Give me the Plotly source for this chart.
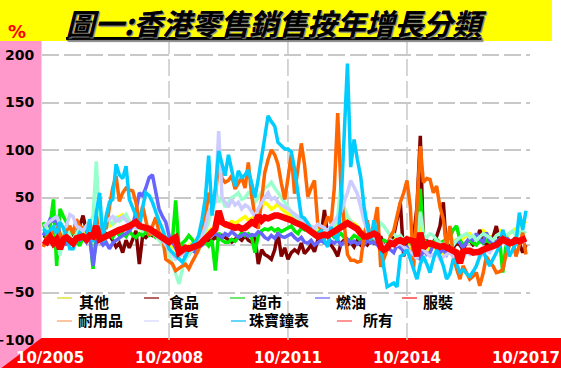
import plotly.graph_objects as go
import pandas as pd

# ---------------- data (monthly, from Aug 2005) ----------------
START = "2005-08-01"

names = ["其他", "食品", "超市", "燃油", "服裝", "耐用品", "百貨", "珠寶鐘表", "所有"]

others = [10, 12, 15, 10, 12,
          8, 12, 10, 15, 12, 10, 14, 12, 15, 10, 12, 15,
          18, 20, 22, 20, 22, 25, 30, 32, 28, 25, 22, 20,
          18, 15, 12, 15, 10, 12, 8, 5, 3, 0, -2, -5,
          -8, -5, -3, 0, 2, 5, 8, 10, 12, 15, 18, 20,
          22, 25, 20, 22, 25, 23, 25, 28, 30, 26, 28, 30,
          35, 40, 45, 42, 38, 40, 44, 38, 35, 32, 30, 28,
          25, 22, 20, 18, 15, 12, 15, 18, 15, 12, 15, 20,
          22, 25, 28, 30, 25, 22, 20, 15, 12, 10, 8, 10,
          12, 5, 2, 0, 3, 5, 8, 5, 2, 0, -5, -8,
          -10, 20, -5, -8, -3, 0, -5, -8, -10, -5, 0, 5,
          2, 5, 8, 10, 12, 8, 5, 10, 15, 12, 8, 10,
          12, 15, 10, 8, 12, 15, 18, 20, 22, 25]

food = [10, 8, 12, 6, 9,
        5, 8, 10, 6, 9, 12, 20, 31, 15, 8, 10, 6,
        9, 8, 12, 10, 5, -2, 2, -8, 5, -3, 6, 15,
        -20, 10, 8, 12, 10, 14, 8, 5, 3, 2, 5, 2,
        0, -3, -5, -2, -4, 0, 2, 5, 3, 5, 5, 8,
        6, 10, 8, 5, 3, 6, 8, 5, 10, 5, 3, 8,
        -20, -5, -10, -12, -15, -5, 13, -12, -3, -15, -8, -5,
        -8, 2, -9, -5, 0, -7, 5, 10, 37, 9, 0, -5,
        -12, 2, 5, 0, 3, -2, 5, 0, 3, 0, 5, 2,
        3, 9, 0, -5, 5, 10, 25, 44, -12, 5, 3, 8,
        40, 115, 2, 5, 0, 3, 9, 20, 45, -8, 0, -3,
        2, 0, -5, 3, 5, 0, 2, 16, 5, 0, 3, 8,
        20, 2, 5, 8, 3, 5, 8, 2, -8, 0]

supermarket = [24, 6, 20, 48, -22,
               38, 30, 24, 10, 15, 5, -1, 8, 10, 12, -25, 13,
               5, 8, 10, 12, 8, 14, 10, 12, 9, 15, 10, 8,
               12, 10, 15, 10, 12, 8, 10, 6, 8, 6, 5, 47,
               -4, 2, 5, 10, 6, 0, 2, 0, 3, -1, 5, -27,
               13, 5, 3, 3, 6, 4, 8, 13, 10, 12, 8, -8,
               10, 15, 17, 16, 18, 15, 17, 14, 16, 18, 20, 15,
               12, 18, 16, 20, 14, 10, 12, 15, 8, 10, 12, 8,
               10, 12, 8, 5, 6, 10, 8, 5, 7, 9, 6, 8,
               4, 2, 5, 3, 6, 2, 5, 8, 3, 5, 2, 0,
               5, 59, 5, 2, 0, 3, 6, 2, 4, 0, 8, 16,
               20, 5, 0, 3, 5, 2, 0, 4, 2, 5, 3, 0,
               2, 5, -29, 0, 3, 5, 2, 4, 6, 5]

fuel = [10, 20, 27, 25, 28,
        10, 5, 0, 8, 2, 10, 5, 8, 3, 10, -22, 3,
        5, 0, 3, -4, 2, 5, 8, 10, 12, 15, 20, 35,
        55, 52, 60, 71, 74, 55, 38, 30, 24, 10, 3, -5,
        -10, -8, -12, -10, -5, -8, -3, 0, 5, 8, 10, 12,
        10, 8, 12, 10, 14, 11, 8, 10, 12, 9, 11, 10,
        14, 12, 8, 6, 10, 7, 12, 9, 8, 10, 12, 8,
        5, 8, 3, 2, 5, 0, 3, 5, 2, 0, 4, 2,
        5, 0, 3, 6, 2, 4, 1, 3, 0, 5, 2, 3,
        0, -3, -8, -2, -5, -8, 0, -3, -6, -2, -10, -5,
        -12, -15, -5, -10, -8, 0, -3, -8, -5, -10, -3, 0,
        5, 2, -3, 3, 8, 5, 12, 6, 3, 13, 5, 2,
        4, 6, 3, 8, 5, 2, 6, 4, 3, 5]

clothing = [15, 18, 10, 20, 12,
            -11, 15, 20, 10, 5, 12, 18, 15, 20, 25, 30, 88,
            20, 15, 18, 25, 22, 30, 25, 28, 32, 25, 20, 22,
            18, 15, 20, 12, 15, 10, 5, 0, -5, -10, -20, -30,
            -41, -25, -15, -10, -5, 0, 5, 10, 15, 25, 40, 59,
            45, 50, 40, 45, 50, 52, 55, 48, 50, 55, 52, 45,
            50, 55, 60, 62, 66, 60, 55, 50, 45, 40, 35, 30,
            28, 25, 22, 20, 18, 15, 20, 18, 15, 12, 15, 20,
            30, 65, 40, 30, 25, 20, 15, 12, 10, 15, 12, 10,
            15, 23, 20, 15, 10, 12, 8, 10, 5, 8, 3, 5,
            10, 35, 10, 8, 12, 10, 5, 2, 0, 5, 3, 0,
            5, 8, 10, 12, 8, 10, 5, 8, 12, 10, 8, 5,
            10, 12, 8, 10, 12, 15, 10, 12, 15, 12]

durables = [-2, 8, 10, 13, 17,
            12, 6, 15, 20, 12, 27, 20, 17, 15, 22, 12, 31,
            10, 20, 17, 40, 60, 73, 46, 55, 60, 58, 57, 45,
            24, 41, 25, 10, 20, 29, 13, 10, -15, -18, -20, -27,
            -24, -22, -20, -25, -18, -11, -5, 17, 30, 55, 41, 50,
            88, 70, 66, 68, 73, 59, 65, 71, 60, 87, 52, 30,
            17, 50, 76, 90, 100, 95, 85, 65, 48, 70, 96, 54,
            80, 107, 85, 51, 60, 68, 23, 16, 20, 30, 23, 60,
            139, 58, 23, -10, -16, -16, -18, -17, 10, 26, 5, 20,
            40, -23, -15, -5, 9, 15, 30, 45, 55, 68, 40, -25,
            40, 104, 66, 70, 69, 55, 62, 40, 27, -1, 20, -12,
            -25, -36, -22, -30, -36, -33, -29, -43, -30, -12, -18, -22,
            -29, -28, -26, -10, -1, 5, -12, 0, 13, -10]

dept_stores = [20, 22, 25, 28, 30,
               22, 18, 20, 32, 30, 20, 18, 15, 20, 18, 12, 15,
               20, 22, 25, 28, 30, 25, 28, 30, 26, 22, 20, 18,
               22, 20, 18, 15, 12, 10, 8, 5, 0, -5, -10, -15,
               -12, -10, -8, -5, -3, 0, 5, 10, 20, 35, 40, 45,
               120, 50, 45, 40, 48, 42, 45, 38, 42, 40, 35, 30,
               38, 45, 50, 55, 48, 50, 45, 42, 40, 38, 35, 32,
               30, 28, 25, 22, 20, 18, 22, 20, 18, 15, 20, 25,
               30, 35, 45, 55, 68, 60, 54, 40, 25, 15, 10, 8,
               5, 2, 0, -3, 5, 3, 0, 2, -2, -5, -8, -10,
               -15, 10, -5, -8, -12, -10, -8, -15, -12, -10, -8, -12,
               -10, -15, -12, -8, -10, -5, -8, -12, -10, -5, -8, -3,
               0, 2, 5, 0, 3, 5, 2, 4, 6, 3]

jewellery = [17, 13, 15, 19, 12,
             24, 18, 10, -4, -4, 5, 13, 10, 8, 27, 3, 34,
             55, 3, 30, 45, 48, 85, 74, 70, 83, 48, 40, 31,
             17, 40, 55, 52, 45, 34, 25, 17, 6, -4, -8, -11,
             -15, -18, -12, -4, 0, 3, 10, 27, 50, 94, 31, 60,
             99, 85, 73, 95, 80, 62, 78, 71, 74, 79, 65, 50,
             70, 94, 118, 136, 130, 125, 108, 104, 101, 101, 98, 80,
             55, 30, 28, 23, 16, 12, 9, 16, 5, -2, 19, 10,
             5, 44, 110, 191, 82, 111, 90, 72, 40, 20, 5, 26,
             10, -2, -23, -44, -42, -40, -44, -12, -10, -5, -15, -25,
             -36, -20, -12, -20, -29, -15, -5, -12, -22, -36, -30, -15,
             -20, -29, -26, -30, -33, -28, -22, -12, -5, -15, -22, -15,
             -8, -1, 16, 5, -12, -5, 2, 34, 16, 36]

total = [5, 3, 8, 2, 6,
         -4, 6, 8, 5, 2, 7, 8, 9, 6, 10, 9, 20,
         6, 8, 9, 12, 13, 14, 16, 17, 18, 20, 22, 24,
         20, 18, 18, 17, 15, 13, 10, 8, 5, 3, 6, 8,
         -8, -5, -3, -4, -3, -2, 0, 3, 6, 10, 14, 17,
         36, 24, 22, 20, 19, 18, 19, 17, 18, 20, 24, 22,
         31, 26, 29, 28, 30, 31, 31, 30, 29, 28, 26, 24,
         23, 21, 19, 16, 14, 12, 9, 10, 11, 10, 12, 14,
         16, 19, 21, 23, 21, 19, 17, 12, 9, 9, 10, 12,
         10, -2, -5, -3, 2, 1, 4, 5, 3, 6, 5, 4,
         -12, 13, -3, 1, 2, 0, -1, -2, -1, -3, -5, -6,
         -8, -19, -7, -6, -6, -8, -8, -7, -5, -4, -2, -1,
         0, 3, 6, 4, 2, 3, 5, 4, 6, 7]

series = [others, food, supermarket, fuel, clothing, durables, dept_stores, jewellery, total]

y_ticks = [-100, -50, 0, 50, 100, 150, 200]
x_tick_dates = ["2005-10-01", "2008-10-01", "2011-10-01", "2014-10-01", "2017-10-01"]
x_tick_labels = ["10/2005", "10/2008", "10/2011", "10/2014", "10/2017"]
grid_dates = ["2008-10-01", "2011-10-01", "2014-10-01"]

# ---------------- styling ----------------
line_colors = ["#FFFF00", "#800000", "#00EE00", "#6666FF", "#99FFCC",
               "#FF6600", "#CCCCFF", "#00CCFF", "#FF0000"]
line_widths = [3.5, 3.5, 3.5, 3.5, 3.5, 3.5, 3.5, 3.5, 6.5]
legend_colors = ["#E0E040", "#A03030", "#40E040", "#8080FF", "#FF4040",
                 "#FFB080", "#DCDCFF", "#30C8FF", "#FF7070"]

W, H = 561, 368
L, R, T, B = 42, 31, 42, 28
PW, PH = W - L - R, H - T - B


def px(x):
    return (x - L) / PW


def py(y):
    return (H - B - y) / PH


fig = go.Figure()
for name, vals, col, wd in zip(names, series, line_colors, line_widths):
    xs = pd.date_range(START, periods=len(vals), freq="MS")
    fig.add_trace(go.Scatter(x=xs, y=vals, mode="lines", name=name,
                             line=dict(color=col, width=wd),
                             showlegend=False))

shapes = []
# red bottom band
shapes.append(dict(type="rect", xref="paper", yref="paper", layer="below",
                   x0=px(0), x1=px(W), y0=py(H), y1=py(338),
                   fillcolor="#FF0000", line=dict(width=0)))
# pink left strip with diagonal corner
shapes.append(dict(type="path", xref="paper", yref="paper", layer="below",
                   path=f"M{px(0)},{py(41)} L{px(41.5)},{py(41)} L{px(41.5)},{py(338)} L{px(0)},{py(369)} Z",
                   fillcolor="#FF99CC", line=dict(width=0)))
# yellow title band
shapes.append(dict(type="rect", xref="paper", yref="paper", layer="below",
                   x0=px(0), x1=px(552), y0=py(41), y1=py(0),
                   fillcolor="#FFFF00", line=dict(width=0)))
# vertical dashed grid lines
for d in grid_dates:
    shapes.append(dict(type="line", xref="x", yref="paper", layer="below",
                       x0=d, x1=d, y0=0, y1=1,
                       line=dict(color="#C8C8C8", width=1.5, dash="17px,5px")))

annotations = []
# title
annotations.append(dict(xref="paper", yref="paper", x=px(276), y=py(22),
                        text="圖一:香港零售銷售按年增長分類", showarrow=False,
                        xanchor="center", yanchor="middle",
                        font=dict(family="Noto Sans CJK TC", size=29, color="black",
                                  weight="bold", style="italic", lineposition="under",
                                  shadow="1px 1px 1px #888888")))
annotations.append(dict(xref="paper", yref="paper", x=px(17), y=py(31),
                        text="%", showarrow=False, xanchor="center", yanchor="middle",
                        font=dict(family="DejaVu Sans", size=18, color="#FF0000", weight="bold")))

# custom legend (two rows)
leg_line_x = [57, 144, 230, 315, 402, 57, 144, 231, 337]
leg_text_x = [78, 168, 251, 335, 422, 77, 168, 248, 362]
leg_line_y = [298, 298, 298, 298, 298, 321, 321, 321, 321]
leg_text_y = [301, 301, 301, 301, 301, 319, 319, 319, 319]
for nm, c, lx, tx, ly, ty in zip(names, legend_colors, leg_line_x, leg_text_x, leg_line_y, leg_text_y):
    shapes.append(dict(type="line", xref="paper", yref="paper", layer="above",
                       x0=px(lx), x1=px(lx + 15), y0=py(ly), y1=py(ly),
                       line=dict(color=c, width=1.5)))
    annotations.append(dict(xref="paper", yref="paper", x=px(tx), y=py(ty),
                            text=nm, showarrow=False, xanchor="left", yanchor="middle",
                            height=17, borderpad=0,
                            font=dict(family="Noto Sans CJK TC", size=15, color="black",
                                      weight="bold")))

fig.update_layout(
    width=W, height=H,
    margin=dict(l=L, r=R, t=T, b=B, pad=0, autoexpand=False),
    paper_bgcolor="white", plot_bgcolor="white",
    showlegend=False,
    shapes=shapes, annotations=annotations,
    xaxis=dict(type="date", range=["2005-07-19", "2017-11-07"], automargin=False,
               tickmode="array", tickvals=x_tick_dates, ticktext=x_tick_labels,
               showgrid=False, zeroline=False, showline=False,
               ticks="outside", ticklen=4, tickcolor="rgba(0,0,0,0)",
               tickfont=dict(family="DejaVu Sans", size=15, color="white", weight="bold")),
    yaxis=dict(range=[-100, 213.7], tickmode="array", tickvals=y_ticks, automargin=False,
               showgrid=True, gridcolor="#C8C8C8", gridwidth=1.5, griddash="17px,5px",
               zeroline=False, showline=False,
               ticks="outside", ticklen=4, tickcolor="rgba(0,0,0,0)",
               tickfont=dict(family="DejaVu Sans", size=14, color="black", weight="bold")),
)

fig.write_html("out.html", config={"displayModeBar": False},
               post_script="document.body.style.margin='0';document.body.style.overflow='hidden';")
